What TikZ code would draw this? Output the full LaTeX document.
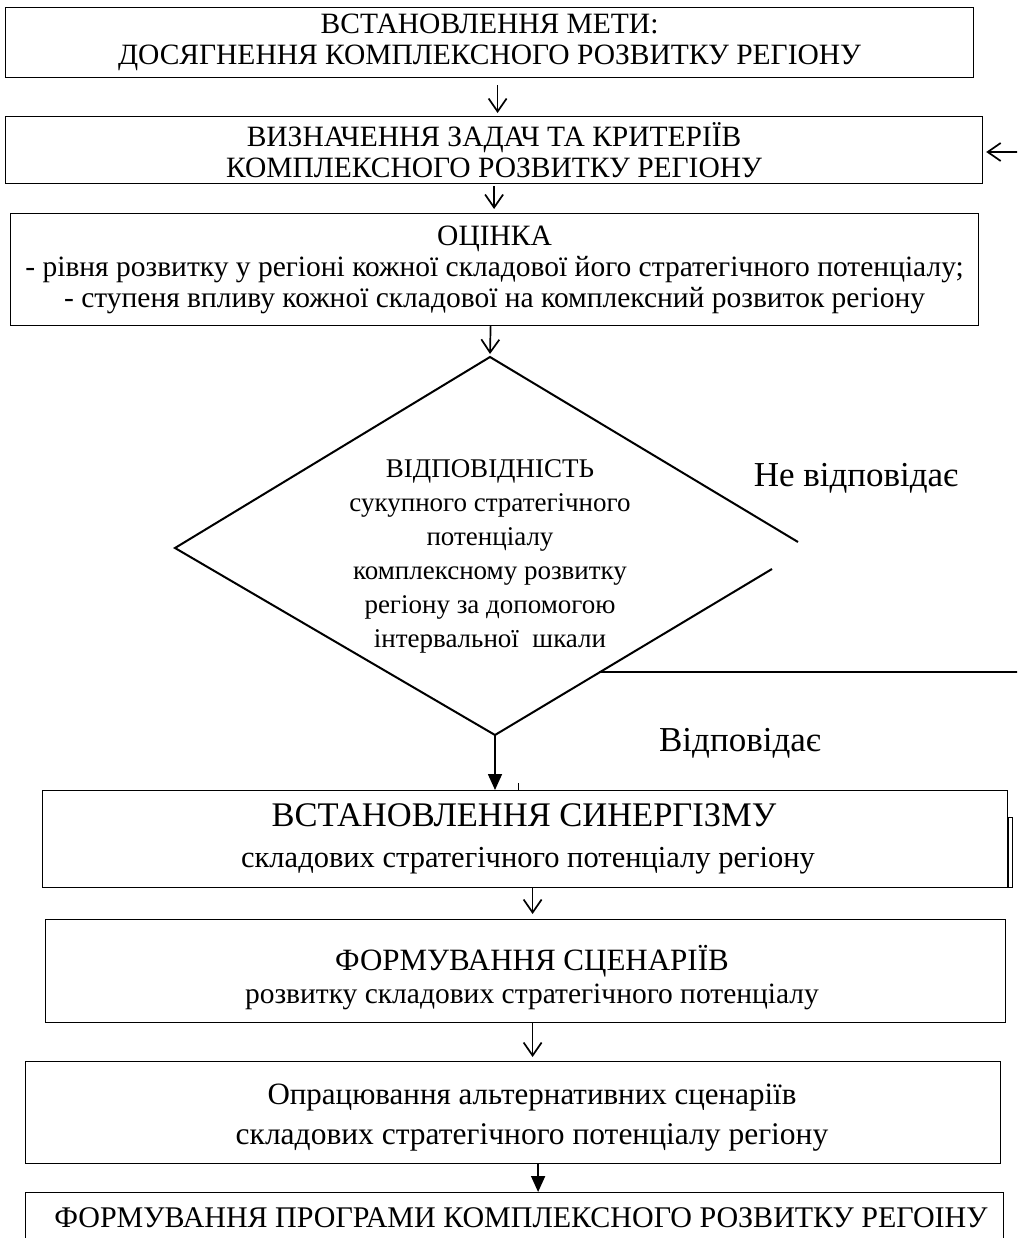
\documentclass[tikz,border=0pt]{standalone}
\usepackage{fontspec}
\setmainfont{Liberation Serif}
\usetikzlibrary{arrows.meta}
\begin{document}
\begin{tikzpicture}[x=1pt,y=-1pt,
  box/.style={draw,line width=1.2pt,inner sep=0pt,align=center,anchor=north west},
  txt/.style={inner sep=0pt,anchor=base},
  fa/.style={font=\fontsize{29.5}{31}\selectfont},
  fd/.style={font=\fontsize{27}{34}\selectfont},
  fl/.style={font=\fontsize{35}{38}\selectfont},
  oarrow/.style={line width=1.7pt,-{Straight Barb[length=13pt,width=18pt,line width=1.7pt]}},
  farrow/.style={line width=1.7pt,-{Triangle[length=16pt,width=14pt]}},
  dline/.style={line width=2pt}]
\path[use as bounding box] (0,0) rectangle (1017,1238);
\clip (0,0) rectangle (1017,1238);

\node[box,fa,minimum width=968pt,minimum height=70pt] (b1) at (5,7)
  {ВСТАНОВЛЕННЯ МЕТИ:\\ДОСЯГНЕННЯ КОМПЛЕКСНОГО РОЗВИТКУ РЕГІОНУ};
\node[box,fa,minimum width=977pt,minimum height=67pt] (b2) at (5,116)
  {ВИЗНАЧЕННЯ ЗАДАЧ ТА КРИТЕРІЇВ\\КОМПЛЕКСНОГО РОЗВИТКУ РЕГІОНУ};
\node[box,fa,minimum width=968pt,minimum height=112pt] (b3) at (10,213)
  {ОЦІНКА\\- рівня розвитку у регіоні кожної складової його стратегічного потенціалу;\\- ступеня впливу кожної складової на комплексний розвиток регіону};

\node[box,minimum width=965pt,minimum height=97pt] (b5) at (42,790) {};
\node[txt,font=\fontsize{34.5}{36}\selectfont] (t5a) at (524,826) {ВСТАНОВЛЕННЯ СИНЕРГІЗМУ};
\node[txt,font=\fontsize{30.5}{32}\selectfont] (t5b) at (528,867) {складових стратегічного потенціалу регіону};

\node[box,minimum width=960pt,minimum height=103pt] (b6) at (45,919) {};
\node[txt,font=\fontsize{31}{33}\selectfont] (t6a) at (532,970) {ФОРМУВАННЯ СЦЕНАРІЇВ};
\node[txt,font=\fontsize{29.5}{31}\selectfont] (t6b) at (532,1003) {розвитку складових стратегічного потенціалу};

\node[box,minimum width=975pt,minimum height=102pt] (b7) at (25,1061) {};
\node[txt,font=\fontsize{31}{33}\selectfont] (t7a) at (532,1104) {Опрацювання альтернативних сценаріїв};
\node[txt,font=\fontsize{31.5}{33}\selectfont] (t7b) at (532,1144) {складових стратегічного потенціалу регіону};

\node[box,minimum width=978pt,minimum height=52pt] (b8) at (25,1192) {};
\node[txt,font=\fontsize{30}{32}\selectfont] (t8) at (521,1227) {ФОРМУВАННЯ ПРОГРАМИ КОМПЛЕКСНОГО РОЗВИТКУ РЕГОІНУ};

% decision diamond (drawn with a gap at its right corner)
\coordinate (dt) at (490,357);
\coordinate (dl) at (175,548);
\coordinate (db) at (495,735);
\coordinate (dr1) at (798,542);
\coordinate (dr2) at (772,569);
\coordinate (hl) at (599,672);
\coordinate (hr) at (1020,672);
\draw[dline] (dr1) -- (dt) -- (dl) -- (db) -- (dr2);
\node[fd,align=center] (dtext) at (490,556)
  {ВІДПОВІДНІСТЬ\\сукупного стратегічного\\потенціалу\\комплексному розвитку\\регіону за допомогою\\інтервальної\ \ шкали};
\draw[dline] (hl) -- (hr);

\node[fl] (lno) at (856,478) {Не відповідає};
\node[fl] (lyes) at (740,743) {Відповідає};

% connectors
\draw[oarrow] ([xshift=8pt,yshift=-7pt]b1.south) -- ([xshift=8pt,yshift=3pt]b1.south |- b2.north);
\draw[oarrow] ([yshift=-2pt]b2.south) -- ([yshift=4pt]b2.south |- b3.north);
\draw[oarrow] ([xshift=-4pt]b3.south) -- ([yshift=3pt]dt);
\draw[farrow] (db) -- (db |- b5.north);
\draw[line width=1.5pt] ([xshift=-6.5pt]b5.north) -- ++(0,-7);
\draw[line width=0.8pt] (b5.north east) ++(0,27) rectangle ++(4,70);
\draw[oarrow] ([xshift=7.5pt]b5.south) -- ([xshift=7.5pt,yshift=5pt]b5.south |- b6.north);
\draw[oarrow] ([xshift=7pt]b6.south) -- ([xshift=7pt,yshift=4pt]b6.south |- b7.north);
\draw[farrow] ([xshift=25pt]b7.south) -- ([xshift=25pt]b7.south |- b8.north);
\coordinate (rin) at (1020,152);
\draw[oarrow] (rin) -- ([xshift=3pt]rin -| b2.east);
\end{tikzpicture}
\end{document}
